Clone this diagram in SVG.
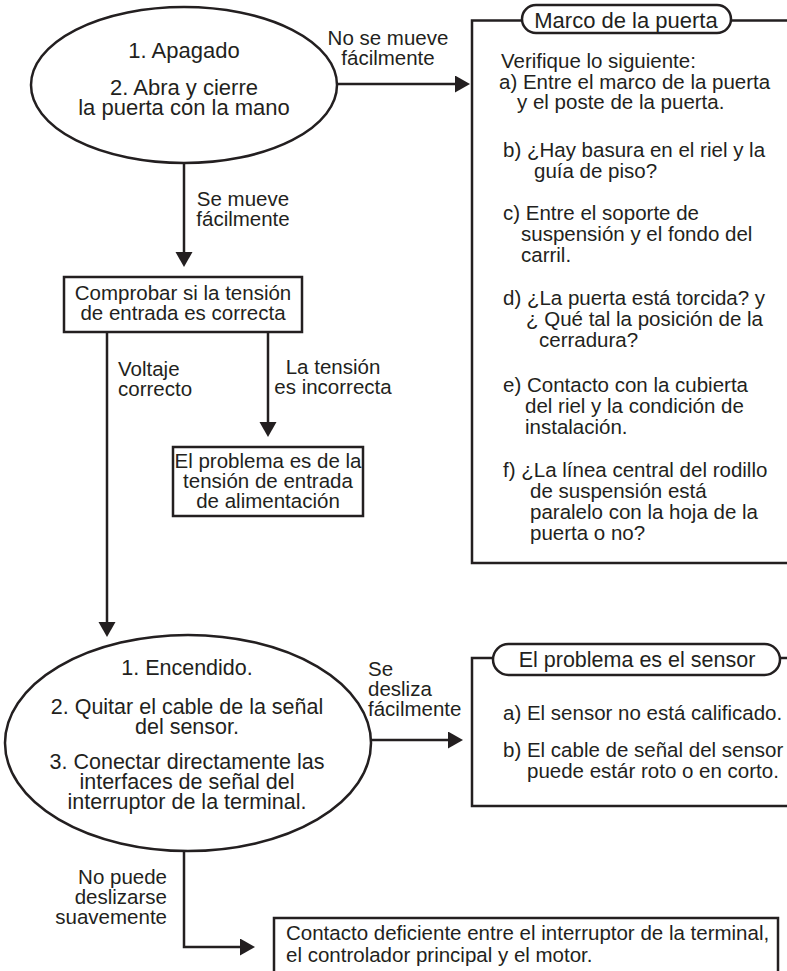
<svg xmlns="http://www.w3.org/2000/svg" width="787" height="971" viewBox="0 0 787 971">
<style>
.ln{fill:none;stroke:#231f20;stroke-width:2.5}
.bx{fill:#fff;stroke:#231f20;stroke-width:2.5}
text{font-family:"Liberation Sans",Arial,sans-serif;font-size:20.5px;fill:#231f20}
.big{font-size:21.5px}
.hd{font-size:22px}
.c{text-anchor:middle}
.r{text-anchor:end}
</style>
<defs>
<marker id="ah" markerUnits="userSpaceOnUse" markerWidth="16" markerHeight="18" refX="3" refY="8.5" orient="auto">
<path d="M0,0 L15,8.5 L0,17 Z" fill="#231f20"/>
</marker>
</defs>
<rect width="787" height="971" fill="#fff"/>
<g id="connectors">
<line class="ln" x1="337" y1="84" x2="458" y2="84" marker-end="url(#ah)"/>
<line class="ln" x1="184" y1="163" x2="184" y2="255" marker-end="url(#ah)"/>
<line class="ln" x1="107" y1="332" x2="107" y2="625" marker-end="url(#ah)"/>
<line class="ln" x1="268" y1="332" x2="268" y2="425" marker-end="url(#ah)"/>
<line class="ln" x1="371" y1="740" x2="451" y2="740" marker-end="url(#ah)"/>
<path class="ln" d="M184,852 V947 H243" marker-end="url(#ah)"/>
<text class="c" x="388" y="45">No se mueve</text>
<text class="c" x="388" y="65">fácilmente</text>
<text class="c" x="243" y="206">Se mueve</text>
<text class="c" x="243" y="226">fácilmente</text>
<text x="118" y="376">Voltaje</text>
<text x="118" y="396">correcto</text>
<text class="c" x="333" y="374">La tensión</text>
<text class="c" x="333" y="394">es incorrecta</text>
<text x="368" y="676">Se</text>
<text x="368" y="696">desliza</text>
<text x="368" y="716">fácilmente</text>
<text class="r" x="167" y="884">No puede</text>
<text class="r" x="167" y="904">deslizarse</text>
<text class="r" x="167" y="924">suavemente</text>
</g>
<g id="start">
<ellipse class="bx" cx="184" cy="85" rx="153" ry="78"/>
<text class="c hd" x="184" y="58">1. Apagado</text>
<text class="c hd" x="184" y="95">2. Abra y cierre</text>
<text class="c hd" x="184" y="115">la puerta con la mano</text>
</g>
<g id="check-voltage">
<rect class="bx" x="64" y="277" width="238" height="55"/>
<text class="c" x="183" y="300">Comprobar si la tensión</text>
<text class="c" x="183" y="320">de entrada es correcta</text>
</g>
<g id="power-problem">
<rect class="bx" x="173" y="447" width="190" height="69"/>
<text class="c" x="268" y="468">El problema es de la</text>
<text class="c" x="268" y="488">tensión de entrada</text>
<text class="c" x="268" y="508">de alimentación</text>
</g>
<g id="door-frame">
<path class="ln" d="M787,20.5 H472 V563 H787"/>
<rect class="bx" x="522" y="5" width="209" height="28" rx="14"/>
<text class="c hd" x="626" y="28">Marco de la puerta</text>
<text x="501" y="68">Verifique lo siguiente:</text>
<text x="499" y="89">a) Entre el marco de la puerta</text>
<text x="517" y="109">y el poste de la puerta.</text>
<text x="503" y="157">b) ¿Hay basura en el riel y la</text>
<text x="534" y="178">guía de piso?</text>
<text x="503" y="220">c) Entre el soporte de</text>
<text x="521" y="241">suspensión y el fondo del</text>
<text x="521" y="262">carril.</text>
<text x="503" y="305">d) ¿La puerta está torcida? y</text>
<text x="526" y="326">¿ Qué tal la posición de la</text>
<text x="539" y="347">cerradura?</text>
<text x="503" y="392">e) Contacto con la cubierta</text>
<text x="525" y="413">del riel y la condición de</text>
<text x="525" y="434">instalación.</text>
<text x="503" y="477">f) ¿La línea central del rodillo</text>
<text x="530" y="498">de suspensión está</text>
<text x="530" y="519">paralelo con la hoja de la</text>
<text x="530" y="540">puerta o no?</text>
</g>
<g id="power-on">
<ellipse class="bx" cx="188" cy="743" rx="183" ry="108"/>
<text class="c big" x="187" y="675">1. Encendido.</text>
<text class="c big" x="187" y="714">2. Quitar el cable de la señal</text>
<text class="c big" x="187" y="734">del sensor.</text>
<text class="c big" x="187" y="769">3. Conectar directamente las</text>
<text class="c big" x="187" y="789">interfaces de señal del</text>
<text class="c big" x="187" y="809">interruptor de la terminal.</text>
</g>
<g id="sensor">
<path class="ln" d="M787,658 H472 V806 H787"/>
<rect class="bx" x="493" y="644" width="287" height="31" rx="15.5"/>
<text class="c big" x="637" y="667">El problema es el sensor</text>
<text x="503" y="720">a) El sensor no está calificado.</text>
<text x="503" y="757">b) El cable de señal del sensor</text>
<text x="527" y="778">puede estár roto o en corto.</text>
</g>
<g id="poor-contact">
<rect class="bx" x="274" y="918" width="504" height="70"/>
<text x="286" y="940">Contacto deficiente entre el interruptor de la terminal,</text>
<text x="286" y="962">el controlador principal y el motor.</text>
</g>
</svg>
